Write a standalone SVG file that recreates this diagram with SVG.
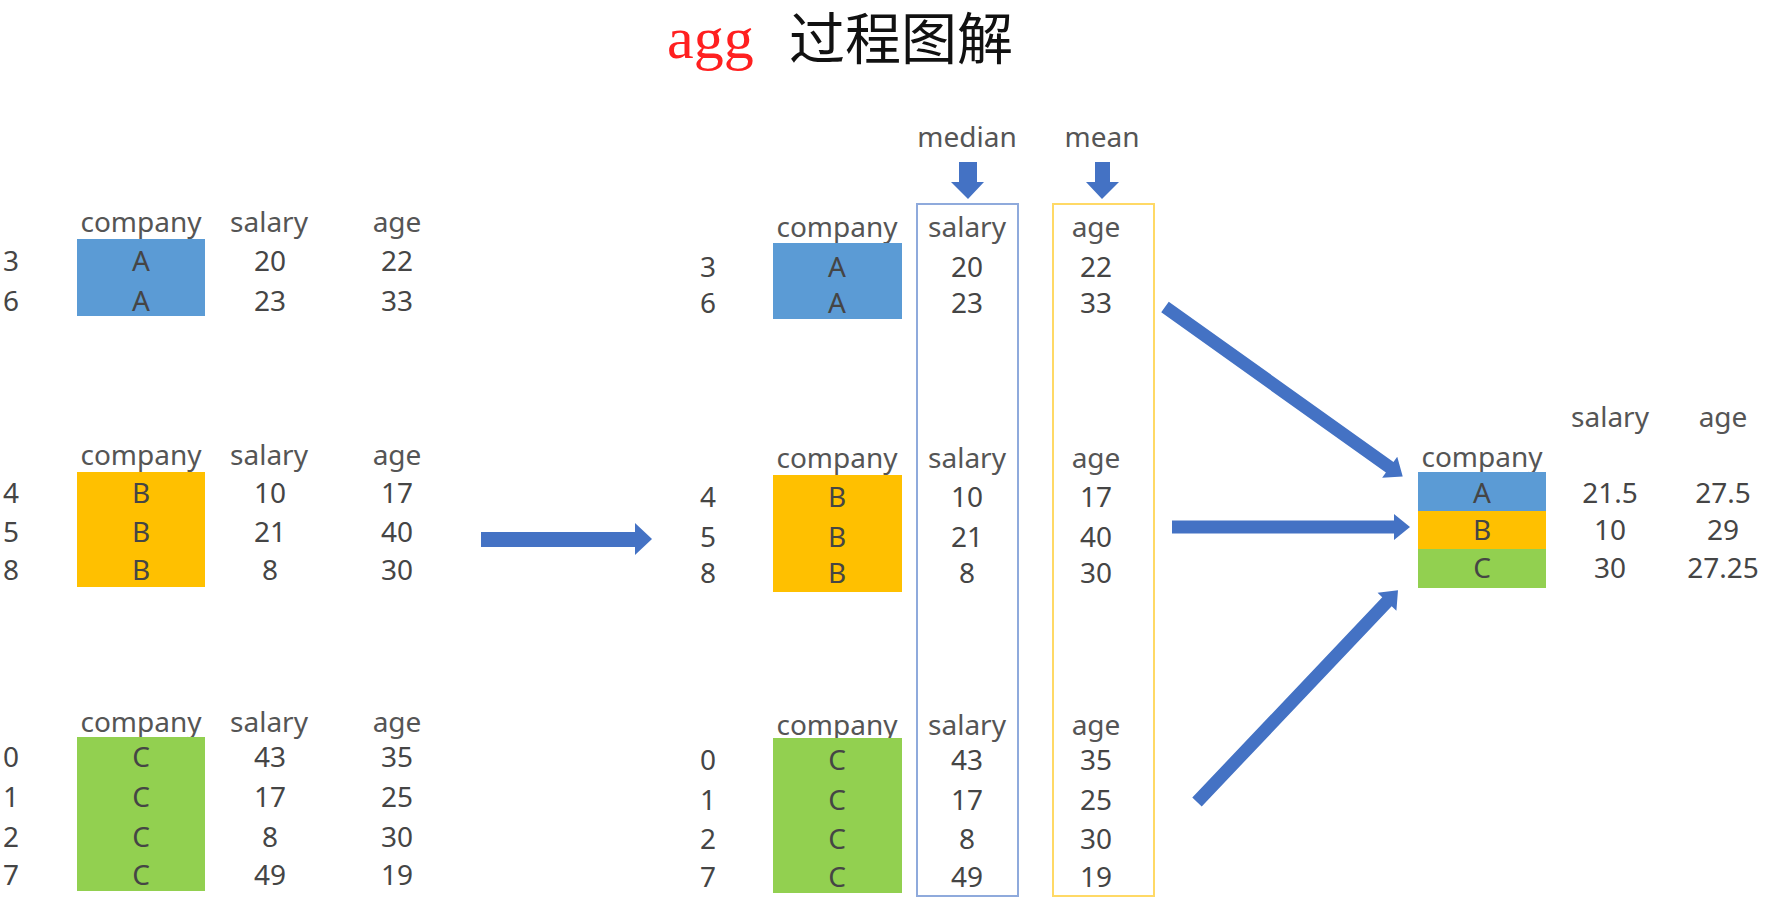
<svg xmlns="http://www.w3.org/2000/svg" width="1768" height="912" viewBox="0 0 1768 912">
<style>
text{font-family:"Noto Sans","Liberation Sans",sans-serif;font-size:28px;fill:#454545;text-anchor:middle}
.h{fill:#555}
.cA{fill:#5B9BD5}.cB{fill:#FFC000}.cC{fill:#92D050}
.arr{fill:#4472C4}
.title1{font-family:"Liberation Serif",serif;font-size:60px;fill:#FF2020;text-anchor:start}
.title2{font-family:"Noto Sans CJK SC",sans-serif;font-size:56px;fill:#111;text-anchor:start}
</style>
<rect width="1768" height="912" fill="#fff"/>
<g id="title">
<text class="title1" x="667" y="58">agg</text>
<text class="title2" x="789" y="59">过程图解</text>
</g>

<g id="left-A">
<text class="h" x="141" y="232">company</text><text class="h" x="269" y="232">salary</text><text class="h" x="397" y="232">age</text>
<rect class="cA" x="77" y="239" width="128" height="77"/>
<text x="11" y="271">3</text><text x="141" y="271">A</text><text x="270" y="271">20</text><text x="397" y="271">22</text>
<text x="11" y="311">6</text><text x="141" y="311">A</text><text x="270" y="311">23</text><text x="397" y="311">33</text>
</g>
<g id="left-B">
<text class="h" x="141" y="465">company</text><text class="h" x="269" y="465">salary</text><text class="h" x="397" y="465">age</text>
<rect class="cB" x="77" y="472" width="128" height="115"/>
<text x="11" y="503">4</text><text x="141" y="503">B</text><text x="270" y="503">10</text><text x="397" y="503">17</text>
<text x="11" y="542">5</text><text x="141" y="542">B</text><text x="270" y="542">21</text><text x="397" y="542">40</text>
<text x="11" y="580">8</text><text x="141" y="580">B</text><text x="270" y="580">8</text><text x="397" y="580">30</text>
</g>
<g id="left-C">
<text class="h" x="141" y="732">company</text><text class="h" x="269" y="732">salary</text><text class="h" x="397" y="732">age</text>
<rect class="cC" x="77" y="737" width="128" height="154"/>
<text x="11" y="767">0</text><text x="141" y="767">C</text><text x="270" y="767">43</text><text x="397" y="767">35</text>
<text x="11" y="807">1</text><text x="141" y="807">C</text><text x="270" y="807">17</text><text x="397" y="807">25</text>
<text x="11" y="847">2</text><text x="141" y="847">C</text><text x="270" y="847">8</text><text x="397" y="847">30</text>
<text x="11" y="885">7</text><text x="141" y="885">C</text><text x="270" y="885">49</text><text x="397" y="885">19</text>
</g>

<g id="agg-labels">
<text class="h" x="967" y="147">median</text>
<text class="h" x="1102" y="147">mean</text>
</g>
<g id="col-boxes">
<rect x="917" y="204" width="101" height="692" fill="none" stroke="#8FAADC" stroke-width="2"/>
<rect x="1053" y="204" width="101" height="692" fill="none" stroke="#FFD966" stroke-width="2"/>
</g>

<g id="mid-A">
<text class="h" x="837" y="237">company</text><text class="h" x="967" y="237">salary</text><text class="h" x="1096" y="237">age</text>
<rect class="cA" x="773" y="243" width="129" height="76"/>
<text x="708" y="277">3</text><text x="837" y="277">A</text><text x="967" y="277">20</text><text x="1096" y="277">22</text>
<text x="708" y="313">6</text><text x="837" y="313">A</text><text x="967" y="313">23</text><text x="1096" y="313">33</text>
</g>
<g id="mid-B">
<text class="h" x="837" y="468">company</text><text class="h" x="967" y="468">salary</text><text class="h" x="1096" y="468">age</text>
<rect class="cB" x="773" y="475" width="129" height="117"/>
<text x="708" y="507">4</text><text x="837" y="507">B</text><text x="967" y="507">10</text><text x="1096" y="507">17</text>
<text x="708" y="547">5</text><text x="837" y="547">B</text><text x="967" y="547">21</text><text x="1096" y="547">40</text>
<text x="708" y="583">8</text><text x="837" y="583">B</text><text x="967" y="583">8</text><text x="1096" y="583">30</text>
</g>
<g id="mid-C">
<text class="h" x="837" y="735">company</text><text class="h" x="967" y="735">salary</text><text class="h" x="1096" y="735">age</text>
<rect class="cC" x="773" y="738" width="129" height="155"/>
<text x="708" y="770">0</text><text x="837" y="770">C</text><text x="967" y="770">43</text><text x="1096" y="770">35</text>
<text x="708" y="810">1</text><text x="837" y="810">C</text><text x="967" y="810">17</text><text x="1096" y="810">25</text>
<text x="708" y="849">2</text><text x="837" y="849">C</text><text x="967" y="849">8</text><text x="1096" y="849">30</text>
<text x="708" y="887">7</text><text x="837" y="887">C</text><text x="967" y="887">49</text><text x="1096" y="887">19</text>
</g>

<g id="result">
<text class="h" x="1610" y="427">salary</text><text class="h" x="1723" y="427">age</text>
<text class="h" x="1482" y="467">company</text>
<rect class="cA" x="1418" y="472" width="128" height="39"/>
<rect class="cB" x="1418" y="511" width="128" height="38"/>
<rect class="cC" x="1418" y="549" width="128" height="39"/>
<text x="1482" y="503">A</text><text x="1610" y="503">21.5</text><text x="1723" y="503">27.5</text>
<text x="1482" y="540">B</text><text x="1610" y="540">10</text><text x="1723" y="540">29</text>
<text x="1482" y="578">C</text><text x="1610" y="578">30</text><text x="1723" y="578">27.25</text>
</g>

<g id="connectors" class="arr">
<polygon points="959,162 977,162 977,182 984,182 968,199 951,182 959,182"/>
<polygon points="1095,162 1110,162 1110,182 1119,182 1102,199 1086,182 1095,182"/>
<polygon points="481,532 635,532 635,523 652,539 635,555 635,547 481,547"/>
<polygon transform="translate(1165,307) rotate(35.5)" points="0,-6.5 276,-6.5 276,-13 292,0 276,13 276,6.5 0,6.5"/>
<polygon transform="translate(1172,527)" points="0,-6.5 222,-6.5 222,-13 238,0 222,13 222,6.5 0,6.5"/>
<polygon transform="translate(1197,802) rotate(-46.5)" points="0,-6.5 276,-6.5 276,-13 292,0 276,13 276,6.5 0,6.5"/>
</g>
</svg>
